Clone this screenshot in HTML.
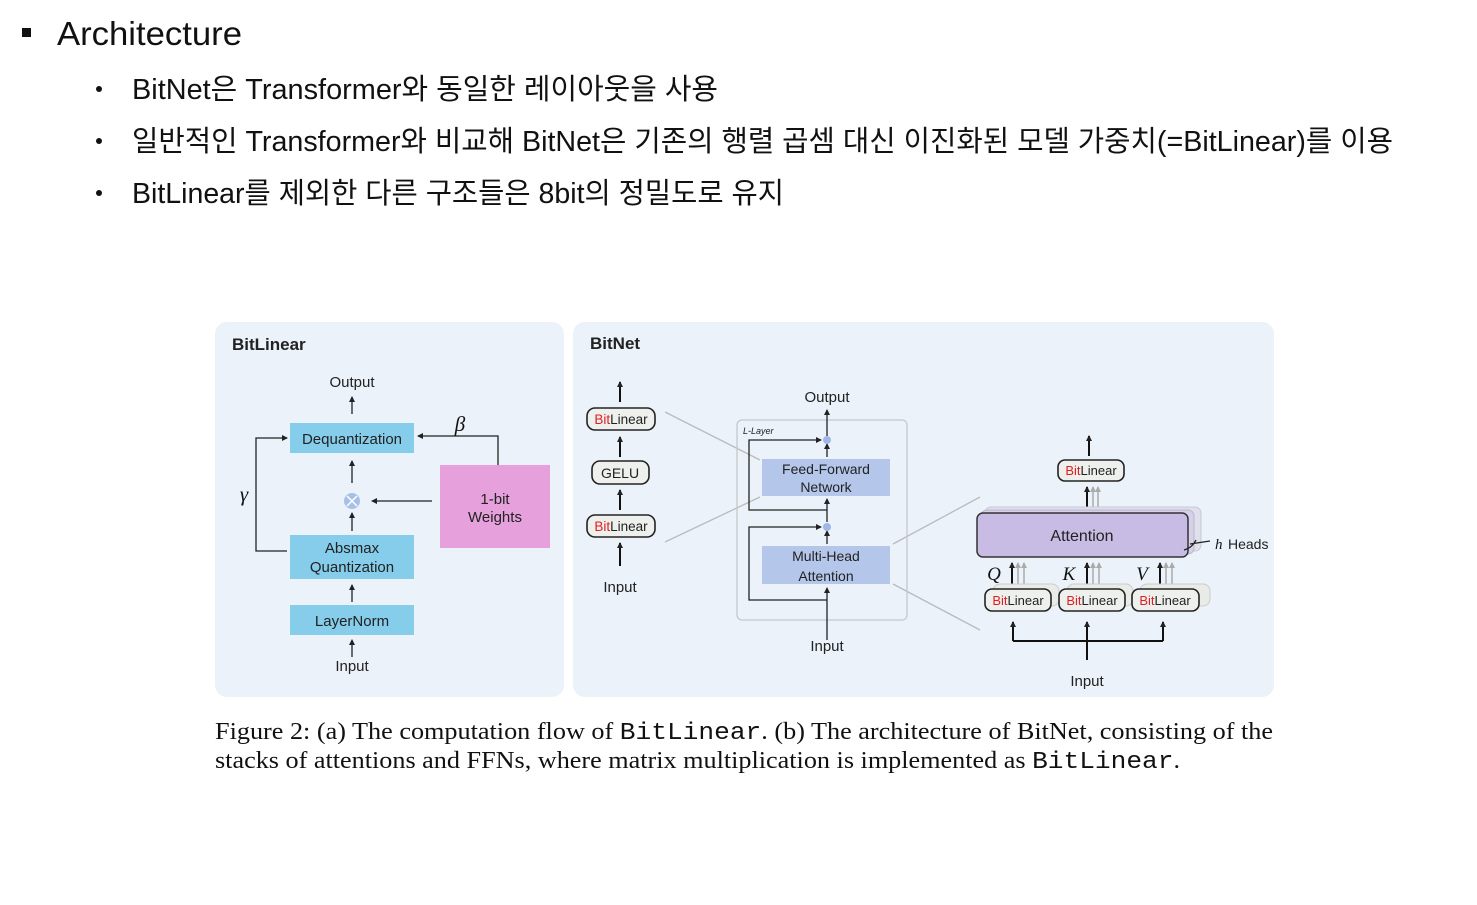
<!DOCTYPE html>
<html><head><meta charset="utf-8"><style>
html,body{margin:0;padding:0;background:#fff;width:1477px;height:905px;overflow:hidden}
svg{display:block}
.k{font-family:"Liberation Sans","Noto Sans CJK KR",sans-serif;fill:#111}
.s{font-family:"Liberation Sans",sans-serif;fill:#222}
.sf{font-family:"Liberation Serif",serif;fill:#111}
</style></head><body>
<svg width="1477" height="905" viewBox="0 0 1477 905" xmlns="http://www.w3.org/2000/svg">
<defs>
<marker id="a" markerWidth="6" markerHeight="6" refX="5" refY="3" orient="auto" markerUnits="userSpaceOnUse"><path d="M0,0 L6,3 L0,6 z" fill="#222"/></marker>
<marker id="g" markerWidth="6" markerHeight="6" refX="5" refY="3" orient="auto" markerUnits="userSpaceOnUse"><path d="M0,0 L6,3 L0,6 z" fill="#aaa"/></marker>
</defs>
<!-- header text -->
<rect x="22" y="28" width="9" height="9" fill="#111"/>
<text class="k" x="57" y="45" font-size="33" textLength="185" lengthAdjust="spacingAndGlyphs">Architecture</text>
<circle cx="99" cy="89" r="3" fill="#111"/>
<circle cx="99" cy="141" r="3" fill="#111"/>
<circle cx="99" cy="193" r="3" fill="#111"/>
<text class="k" x="132" y="99" font-size="29" textLength="586" lengthAdjust="spacingAndGlyphs">BitNet은 Transformer와 동일한 레이아웃을 사용</text>
<text class="k" x="132" y="151" font-size="29" textLength="1261" lengthAdjust="spacingAndGlyphs">일반적인 Transformer와 비교해 BitNet은 기존의 행렬 곱셈 대신 이진화된 모델 가중치(=BitLinear)를 이용</text>
<text class="k" x="132" y="203" font-size="29" textLength="652" lengthAdjust="spacingAndGlyphs">BitLinear를 제외한 다른 구조들은 8bit의 정밀도로 유지</text>

<!-- panels -->
<rect x="215" y="322" width="349" height="375" rx="12" fill="#ebf2fa"/>
<rect x="573" y="322" width="701" height="375" rx="12" fill="#ebf2fa"/>

<!-- BitLinear panel -->
<text class="s" x="232" y="350" font-size="17" font-weight="bold" fill="#111">BitLinear</text>
<text class="s" x="352" y="387" font-size="15" text-anchor="middle">Output</text>
<g stroke="#222" stroke-width="1.3" fill="none" marker-end="url(#a)">
<line x1="352" y1="414" x2="352" y2="397"/>
<line x1="352" y1="483" x2="352" y2="461"/>
<line x1="352" y1="531" x2="352" y2="513"/>
<line x1="352" y1="602" x2="352" y2="585"/>
<line x1="352" y1="657" x2="352" y2="640"/>
<line x1="432" y1="501" x2="372" y2="501"/>
<polyline points="498,465 498,436 418,436"/>
<polyline points="287,551 256,551 256,438 287,438"/>
</g>
<rect x="290" y="423" width="124" height="30" fill="#85cdeb"/>
<text class="s" x="352" y="444" font-size="15" text-anchor="middle">Dequantization</text>
<circle cx="352" cy="501" r="8" fill="#a9c0e6"/>
<path d="M347,496 L357,506 M357,496 L347,506" stroke="#fff" stroke-width="1.5"/>
<rect x="290" y="535" width="124" height="44" fill="#85cdeb"/>
<text class="s" x="352" y="553" font-size="15" text-anchor="middle">Absmax</text>
<text class="s" x="352" y="572" font-size="15" text-anchor="middle">Quantization</text>
<rect x="290" y="605" width="124" height="30" fill="#85cdeb"/>
<text class="s" x="352" y="626" font-size="15" text-anchor="middle">LayerNorm</text>
<text class="s" x="352" y="671" font-size="15" text-anchor="middle">Input</text>
<rect x="440" y="465" width="110" height="83" fill="#e6a0dc"/>
<text class="s" x="495" y="504" font-size="15" text-anchor="middle">1-bit</text>
<text class="s" x="495" y="522" font-size="15" text-anchor="middle">Weights</text>
<text class="sf" x="460" y="431" font-size="21" font-style="italic" text-anchor="middle">β</text>
<text class="sf" x="244" y="501" font-size="21" font-style="italic" text-anchor="middle">γ</text>

<!-- BitNet panel -->
<text class="s" x="590" y="349" font-size="17" font-weight="bold" fill="#111">BitNet</text>
<g stroke="#111" stroke-width="2" fill="none" marker-end="url(#a)">
<line x1="620" y1="402" x2="620" y2="382"/>
<line x1="620" y1="457" x2="620" y2="437"/>
<line x1="620" y1="510" x2="620" y2="490"/>
<line x1="620" y1="566" x2="620" y2="543"/>
</g>
<g fill="#eef0ee" stroke="#222" stroke-width="1.6">
<rect x="587" y="408" width="68" height="22" rx="8"/>
<rect x="592" y="461" width="57" height="23" rx="8"/>
<rect x="587" y="515" width="68" height="22" rx="8"/>
</g>
<text class="s" x="621" y="424" font-size="13.5" text-anchor="middle"><tspan fill="#e02020">Bit</tspan>Linear</text>
<text class="s" x="620" y="478" font-size="14" text-anchor="middle">GELU</text>
<text class="s" x="621" y="531" font-size="13.5" text-anchor="middle"><tspan fill="#e02020">Bit</tspan>Linear</text>
<text class="s" x="620" y="592" font-size="15" text-anchor="middle">Input</text>
<g stroke="#bbb" stroke-width="1.3">
<line x1="665" y1="412" x2="760" y2="460"/>
<line x1="665" y1="542" x2="760" y2="497"/>
<line x1="893" y1="544" x2="980" y2="497"/>
<line x1="893" y1="584" x2="980" y2="630"/>
</g>
<text class="s" x="827" y="402" font-size="15" text-anchor="middle">Output</text>
<rect x="737" y="420" width="170" height="200" rx="5" fill="none" stroke="#c8c8c8" stroke-width="1.3"/>
<text class="s" x="743" y="434" font-size="9" font-style="italic">L-Layer</text>
<g stroke="#222" stroke-width="1.3" fill="none">
<line x1="827" y1="640" x2="827" y2="588" marker-end="url(#a)"/>
<line x1="827" y1="544" x2="827" y2="531" marker-end="url(#a)"/>
<line x1="827" y1="522" x2="827" y2="499" marker-end="url(#a)"/>
<line x1="827" y1="457" x2="827" y2="444" marker-end="url(#a)"/>
<line x1="827" y1="436" x2="827" y2="410" marker-end="url(#a)"/>
<polyline points="827,510 749,510 749,440 821,440" marker-end="url(#a)"/>
<polyline points="827,600 749,600 749,527 821,527" marker-end="url(#a)"/>
</g>
<circle cx="827" cy="440" r="4" fill="#9fb6e6"/>
<circle cx="827" cy="527" r="4" fill="#9fb6e6"/>
<rect x="762" y="459" width="128" height="37" fill="#b4c6ea"/>
<text class="s" x="826" y="474" font-size="14" text-anchor="middle">Feed-Forward</text>
<text class="s" x="826" y="492" font-size="14" text-anchor="middle">Network</text>
<rect x="762" y="546" width="128" height="38" fill="#b4c6ea"/>
<text class="s" x="826" y="561" font-size="14" text-anchor="middle">Multi-Head</text>
<text class="s" x="826" y="581" font-size="14" text-anchor="middle">Attention</text>
<text class="s" x="827" y="651" font-size="15" text-anchor="middle">Input</text>

<!-- attention detail -->
<g stroke="#111" stroke-width="2" fill="none" marker-end="url(#a)">
<line x1="1089" y1="456" x2="1089" y2="436"/>
<line x1="1087" y1="507" x2="1087" y2="487"/>
<line x1="1012" y1="585" x2="1012" y2="563"/>
<line x1="1087" y1="585" x2="1087" y2="563"/>
<line x1="1160" y1="585" x2="1160" y2="563"/>
<line x1="1013" y1="641" x2="1013" y2="622"/>
<line x1="1087" y1="660" x2="1087" y2="622"/>
<line x1="1163" y1="641" x2="1163" y2="622"/>
</g>
<path d="M1013,641 L1163,641" stroke="#111" stroke-width="2"/>
<g stroke="#aaa" stroke-width="1.5" fill="none" marker-end="url(#g)">
<line x1="1093" y1="507" x2="1093" y2="487"/><line x1="1098" y1="507" x2="1098" y2="487"/>
<line x1="1018" y1="585" x2="1018" y2="563"/><line x1="1024" y1="585" x2="1024" y2="563"/>
<line x1="1093" y1="585" x2="1093" y2="563"/><line x1="1099" y1="585" x2="1099" y2="563"/>
<line x1="1166" y1="585" x2="1166" y2="563"/><line x1="1172" y1="585" x2="1172" y2="563"/>
</g>
<rect x="985" y="507" width="216" height="44" rx="6" fill="#e0e0ec" stroke="#c8c8d6"/>
<rect x="981" y="510" width="213" height="44" rx="6" fill="#d6d0ea" stroke="#b8b8c8"/>
<rect x="977" y="513" width="211" height="44" rx="6" fill="#c8bce4" stroke="#333" stroke-width="1.5"/>
<text class="s" x="1082" y="541" font-size="16" text-anchor="middle">Attention</text>
<path d="M1184,550 q8,-2 12,-10 M1190,544 L1210,541" stroke="#222" stroke-width="1.3" fill="none"/>
<text class="sf" x="1215" y="549" font-size="15" font-style="italic">h</text>
<text class="s" x="1228" y="549" font-size="14">Heads</text>
<rect x="1058" y="460" width="66" height="21" rx="7" fill="#eef0ee" stroke="#222" stroke-width="1.6"/>
<text class="s" x="1091" y="475" font-size="13" text-anchor="middle"><tspan fill="#e02020">Bit</tspan>Linear</text>
<text class="sf" x="994" y="580" font-size="19" font-style="italic" text-anchor="middle">Q</text>
<text class="sf" x="1069" y="580" font-size="19" font-style="italic" text-anchor="middle">K</text>
<text class="sf" x="1142" y="580" font-size="19" font-style="italic" text-anchor="middle">V</text>
<g fill="#e8ebe6" stroke="#ccc">
<rect x="993" y="584" width="66" height="22" rx="7"/><rect x="1067" y="584" width="66" height="22" rx="7"/><rect x="1140" y="584" width="70" height="22" rx="7"/>
</g>
<g fill="#eef0ee" stroke="#222" stroke-width="1.6">
<rect x="985" y="589" width="66" height="22" rx="7"/><rect x="1059" y="589" width="66" height="22" rx="7"/><rect x="1132" y="589" width="67" height="22" rx="7"/>
</g>
<text class="s" x="1018" y="605" font-size="13" text-anchor="middle"><tspan fill="#e02020">Bit</tspan>Linear</text>
<text class="s" x="1092" y="605" font-size="13" text-anchor="middle"><tspan fill="#e02020">Bit</tspan>Linear</text>
<text class="s" x="1165" y="605" font-size="13" text-anchor="middle"><tspan fill="#e02020">Bit</tspan>Linear</text>
<text class="s" x="1087" y="686" font-size="15" text-anchor="middle">Input</text>

<!-- caption -->
<text class="sf" x="215" y="739" font-size="24" textLength="1058" lengthAdjust="spacingAndGlyphs">Figure 2: (a) The computation flow of <tspan font-family="Liberation Mono">BitLinear</tspan>. (b) The architecture of BitNet, consisting of the</text>
<text class="sf" x="215" y="768" font-size="24" textLength="965" lengthAdjust="spacingAndGlyphs">stacks of attentions and FFNs, where matrix multiplication is implemented as <tspan font-family="Liberation Mono">BitLinear</tspan>.</text>
</svg>
</body></html>
